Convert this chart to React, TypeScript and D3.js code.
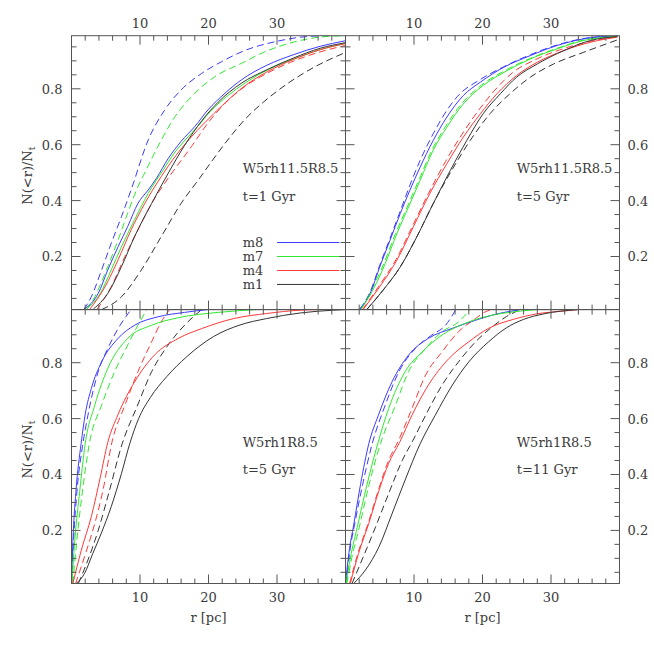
import React from 'react';
import * as d3 from 'd3';

// ---------- axis / label data ----------
const xMajorTicks = [10, 20, 30];
const xMinorTicks = [2, 4, 6, 8, 12, 14, 16, 18, 22, 24, 26, 28, 32, 34, 36, 38];
const yMajorTicks = [0.2, 0.4, 0.6, 0.8];
const yMinorTicks = [0.05, 0.1, 0.15, 0.25, 0.3, 0.35, 0.45, 0.5, 0.55, 0.65, 0.7, 0.75, 0.85, 0.9, 0.95];
const seriesNames = ['m8', 'm7', 'm4', 'm1'];
const seriesColors = ['#3b3bff', '#2fe82f', '#ff3838', '#333333'];
const legendYs = [0.25, 0.2, 0.15, 0.1];
const modelLabels = ['W5rh11.5R8.5', 'W5rh11.5R8.5', 'W5rh1R8.5', 'W5rh1R8.5'];
const timeLabels = ['t=1 Gyr', 't=5 Gyr', 't=5 Gyr', 't=11 Gyr'];

// ---------- top-left: W5rh11.5R8.5, t=1 Gyr ----------
const tl_m8 = [[1.9,0.012],[3.9,0.068],[5.3,0.152],[6.8,0.235],[8.2,0.307],[9.7,0.39],[11.2,0.438],[12.4,0.48],[14.1,0.55],[16,0.612],[18,0.665],[19.9,0.724],[22.4,0.784],[24.8,0.832],[28.5,0.884],[32.4,0.922],[36.3,0.952],[40,0.972]];
const tl_m7 = [[2.2,0.012],[4.2,0.068],[5.8,0.152],[7.3,0.235],[9.2,0.331],[11.2,0.426],[13.4,0.51],[15,0.57],[16.6,0.617],[18.4,0.665],[20.3,0.72],[22.8,0.775],[25.3,0.82],[29,0.872],[33,0.912],[37,0.945],[40,0.962]];
const tl_m4 = [[2.7,0.012],[4.9,0.092],[6.8,0.188],[8.7,0.295],[10.7,0.39],[13.1,0.486],[15.2,0.56],[17.2,0.62],[19.5,0.68],[22,0.74],[25,0.805],[28.5,0.86],[32.4,0.905],[36.3,0.94],[40,0.962]];
const tl_m1 = [[3.2,0.012],[5.3,0.068],[7.3,0.164],[9.2,0.271],[11.7,0.39],[14.1,0.497],[16.5,0.597],[19,0.685],[21.4,0.752],[24.8,0.82],[28.5,0.868],[32.4,0.91],[36.3,0.945],[40,0.965]];
const tl_m8d = [[1.8,0.01],[2.9,0.056],[4.4,0.152],[5.8,0.247],[7.3,0.343],[8.7,0.438],[11.2,0.617],[13.6,0.724],[16.0,0.796],[19,0.855],[21.9,0.897],[25.3,0.937],[30,0.97],[35,0.988],[38,0.99]];
const tl_m7d = [[2.2,0.01],[3.4,0.056],[5.3,0.164],[6.8,0.259],[8.2,0.355],[9.7,0.45],[10.5,0.49],[12.6,0.593],[15.1,0.7],[18,0.784],[20.9,0.843],[24.8,0.891],[28,0.93],[32.4,0.967],[36.3,0.985],[40,0.99]];
const tl_m4d = [[3.7,0.01],[5.8,0.092],[7.8,0.2],[9.7,0.295],[11.7,0.39],[14.4,0.49],[17.5,0.593],[19.9,0.677],[22.4,0.748],[25.3,0.808],[28.5,0.855],[32,0.895],[36,0.93],[40,0.955]];
const tl_m1d = [[4.4,0.01],[7.3,0.056],[10.2,0.152],[13.1,0.271],[16.0,0.39],[18.7,0.48],[20.6,0.545],[22.9,0.62],[25.3,0.69],[28,0.752],[31.5,0.818],[35.4,0.877],[40,0.93]];

// ---------- top-right: W5rh11.5R8.5, t=5 Gyr ----------
const tr_m8 = [[2.1,0.012],[3.6,0.068],[5.0,0.163],[6.5,0.258],[8.0,0.354],[9.4,0.437],[10.9,0.52],[12.8,0.615],[14.8,0.699],[17.2,0.776],[19.7,0.824],[23.1,0.877],[27,0.919],[30.9,0.955],[34.8,0.979],[39.7,0.99]];
const tr_m7 = [[2.3,0.012],[4.0,0.08],[5.8,0.175],[7.5,0.282],[9.2,0.377],[10.9,0.473],[12.8,0.58],[14.8,0.663],[17.2,0.746],[20.1,0.812],[23.6,0.865],[27,0.907],[30.9,0.943],[34.8,0.973],[39.7,0.988]];
const tr_m4 = [[2.6,0.011],[5.0,0.092],[7.5,0.187],[9.9,0.306],[12.3,0.425],[14.8,0.532],[17.2,0.627],[19.7,0.711],[22.1,0.782],[25,0.848],[28,0.895],[31.9,0.937],[35.8,0.967],[39.7,0.985]];
const tr_m1 = [[3.1,0.01],[5.5,0.08],[8.0,0.163],[10.4,0.27],[12.8,0.389],[15.3,0.508],[17.7,0.615],[20.1,0.711],[22.6,0.782],[25,0.842],[28,0.889],[31.9,0.937],[35.8,0.973],[39.7,0.987]];
const tr_m8d = [[2.1,0.012],[3.6,0.074],[5.0,0.169],[6.5,0.265],[8.0,0.363],[9.4,0.455],[10.9,0.544],[12.8,0.639],[14.8,0.723],[16.7,0.782],[19.2,0.826],[23.1,0.879],[27,0.922],[30.9,0.957],[34.8,0.98],[39.7,0.99]];
const tr_m7d = [[2.2,0.012],[3.8,0.08],[5.6,0.175],[7.3,0.282],[9.0,0.377],[10.7,0.473],[12.6,0.58],[14.6,0.665],[17.0,0.748],[19.9,0.814],[23.4,0.867],[27,0.909],[30.9,0.945],[34.8,0.975],[39.7,0.988]];
const tr_m4d = [[2.5,0.011],[4.9,0.095],[7.4,0.19],[9.8,0.31],[12.2,0.43],[14.6,0.54],[17.0,0.637],[19.4,0.722],[21.8,0.795],[24.4,0.858],[27.6,0.903],[31.6,0.942],[35.8,0.97],[39.7,0.986]];
const tr_m1d = [[3.1,0.01],[5.5,0.08],[8.0,0.163],[10.4,0.27],[12.8,0.389],[15.5,0.508],[18.2,0.615],[21.1,0.711],[24,0.782],[27,0.842],[30.4,0.889],[34.8,0.931],[39.7,0.975]];

// ---------- bottom-left: W5rh1R8.5, t=5 Gyr ----------
const bl_m8 = [[0.0,0.01],[0.2,0.16],[0.65,0.34],[1.4,0.51],[2.0,0.615],[2.9,0.708],[4.4,0.803],[6.8,0.887],[9.2,0.934],[12.6,0.964],[16.5,0.98],[19.9,0.99]];
const bl_m7 = [[0.05,0.01],[0.5,0.17],[1.2,0.34],[2.0,0.51],[3.4,0.648],[5.3,0.78],[8.2,0.887],[11.7,0.934],[15.6,0.961],[21.4,0.98],[27,0.99]];
const bl_m4 = [[0.2,0.01],[1.44,0.13],[2.9,0.25],[4.2,0.39],[5.3,0.515],[6.8,0.615],[9.2,0.731],[12.1,0.827],[15.6,0.887],[19,0.922],[23.7,0.958],[28.5,0.976],[33.4,0.988],[36,0.99]];
const bl_m1 = [[0.7,0.01],[1.9,0.046],[3.1,0.117],[4.35,0.19],[5.8,0.285],[7.3,0.404],[8.5,0.51],[9.8,0.6],[11.5,0.675],[13.9,0.75],[16.8,0.821],[20.7,0.893],[24.6,0.935],[28.5,0.958],[33.4,0.978],[38.3,0.988],[40,0.99]];
const bl_m8d = [[0.05,0.01],[0.3,0.16],[0.8,0.34],[1.6,0.5],[2.4,0.612],[3.9,0.768],[5.3,0.851],[6.8,0.922],[8.7,0.99]];
const bl_m7d = [[0.2,0.01],[0.8,0.17],[1.6,0.34],[2.6,0.51],[4.4,0.648],[6.3,0.768],[8.2,0.863],[9.7,0.934],[11,0.99]];
const bl_m4d = [[0.6,0.01],[1.9,0.106],[3.4,0.225],[4.6,0.344],[5.9,0.515],[7.8,0.648],[9.7,0.768],[11.7,0.875],[13.1,0.946],[14.3,0.99]];
const bl_m1d = [[1.0,0.01],[2.4,0.094],[3.9,0.2],[5.4,0.33],[7.4,0.51],[9.6,0.645],[11.7,0.768],[14.1,0.863],[16.5,0.934],[19,0.99]];

// ---------- bottom-right: W5rh1R8.5, t=11 Gyr ----------
const br_m8 = [[0.0,0.01],[0.5,0.12],[1.2,0.22],[2.2,0.365],[3.4,0.51],[4.8,0.612],[6.8,0.732],[9.2,0.827],[12.1,0.887],[15.6,0.923],[19,0.952],[21.4,0.97],[25.5,0.99]];
const br_m7 = [[0.1,0.01],[0.7,0.1],[1.7,0.21],[3.1,0.36],[4.7,0.51],[6.3,0.636],[8.7,0.768],[11.2,0.839],[14.1,0.899],[18,0.946],[21.4,0.97],[24.5,0.982],[27.9,0.99]];
const br_m4 = [[0.7,0.01],[1.9,0.117],[3.4,0.225],[4.9,0.344],[6.3,0.44],[7.9,0.515],[9.7,0.612],[12.1,0.72],[15.1,0.815],[18,0.875],[20.9,0.923],[24.5,0.955],[28,0.975],[31.9,0.985],[34,0.99]];
const br_m1 = [[1.2,0.01],[2.9,0.058],[4.9,0.142],[6.8,0.26],[8.7,0.38],[10.9,0.51],[13.1,0.612],[15.6,0.72],[18,0.803],[20.9,0.875],[23.5,0.925],[26,0.955],[29,0.975],[33.8,0.99]];
const br_m8d = [[0.1,0.01],[0.6,0.12],[1.4,0.23],[2.6,0.375],[3.9,0.51],[5.8,0.648],[7.8,0.768],[10.2,0.851],[12.6,0.899],[14.6,0.934],[16.1,0.99]];
const br_m7d = [[0.2,0.01],[0.9,0.1],[2.0,0.21],[3.4,0.36],[5.1,0.51],[7.3,0.648],[9.2,0.768],[11.7,0.851],[14.1,0.911],[16.5,0.946],[18.2,0.99]];
const br_m4d = [[0.6,0.01],[1.8,0.117],[3.3,0.225],[4.8,0.344],[6.2,0.445],[7.8,0.525],[9.7,0.636],[11.7,0.756],[14.1,0.839],[16.5,0.911],[19,0.958],[20.4,0.982],[21.5,0.99]];
const br_m1d = [[0.95,0.01],[2.4,0.094],[4.4,0.213],[6.3,0.332],[8.3,0.451],[9.8,0.52],[11.7,0.612],[14.1,0.72],[16.5,0.803],[19,0.875],[21.4,0.928],[23.5,0.965],[25.5,0.99]];

const solidSets = [
  [tl_m8, tl_m7, tl_m4, tl_m1],
  [tr_m8, tr_m7, tr_m4, tr_m1],
  [bl_m8, bl_m7, bl_m4, bl_m1],
  [br_m8, br_m7, br_m4, br_m1],
];
const dashedSets = [
  [tl_m8d, tl_m7d, tl_m4d, tl_m1d],
  [tr_m8d, tr_m7d, tr_m4d, tr_m1d],
  [bl_m8d, bl_m7d, bl_m4d, bl_m1d],
  [br_m8d, br_m7d, br_m4d, br_m1d],
];

// ---------- layout ----------
const PX = [71.5, 345.5];
const PY = [35.7, 309.6];
const PW = 274;
const PH = 273.9;
const FONT = 'DejaVu Serif';
const TXT = '#3a3a3a';
const AX = '#555';

function Panel({ idx }: { idx: number }) {
  const col = idx % 2;
  const row = Math.floor(idx / 2);
  const x0 = PX[col];
  const y0 = PY[row];
  const x = d3.scaleLinear().domain([0, 40]).range([x0, x0 + PW]);
  const y = d3.scaleLinear().domain([0.01, 0.99]).range([y0 + PH, y0]);
  const line = d3.line<number[]>().x(d => x(d[0])).y(d => y(d[1])).curve(d3.curveMonotoneX);
  const clipId = `clip${idx}`;
  const maj = 9, min = 5;
  const ticks: any[] = [];
  xMajorTicks.forEach((t, i) => {
    ticks.push(<line key={`xb${i}`} x1={x(t)} x2={x(t)} y1={y0 + PH} y2={y0 + PH - maj} />);
    ticks.push(<line key={`xt${i}`} x1={x(t)} x2={x(t)} y1={y0} y2={y0 + maj} />);
  });
  xMinorTicks.forEach((t, i) => {
    ticks.push(<line key={`xbm${i}`} x1={x(t)} x2={x(t)} y1={y0 + PH} y2={y0 + PH - min} />);
    ticks.push(<line key={`xtm${i}`} x1={x(t)} x2={x(t)} y1={y0} y2={y0 + min} />);
  });
  yMajorTicks.forEach((t, i) => {
    ticks.push(<line key={`yl${i}`} x1={x0} x2={x0 + maj} y1={y(t)} y2={y(t)} />);
    ticks.push(<line key={`yr${i}`} x1={x0 + PW} x2={x0 + PW - maj} y1={y(t)} y2={y(t)} />);
  });
  yMinorTicks.forEach((t, i) => {
    ticks.push(<line key={`ylm${i}`} x1={x0} x2={x0 + min} y1={y(t)} y2={y(t)} />);
    ticks.push(<line key={`yrm${i}`} x1={x0 + PW} x2={x0 + PW - min} y1={y(t)} y2={y(t)} />);
  });

  return (
    <g>
      <defs>
        <clipPath id={clipId}>
          <rect x={x0} y={y0} width={PW} height={PH} />
        </clipPath>
      </defs>
      <g clipPath={`url(#${clipId})`} fill="none" strokeWidth={1}>
        {dashedSets[idx].map((d, i) => (
          <path key={`d${i}`} d={line(d) || ''} stroke={seriesColors[i]} strokeDasharray="7,4" />
        ))}
        {solidSets[idx].map((d, i) => (
          <path key={`s${i}`} d={line(d) || ''} stroke={seriesColors[i]} />
        ))}
      </g>
      <g stroke={AX} strokeWidth={1}>{ticks}</g>
      <rect x={x0} y={y0} width={PW} height={PH} fill="none" stroke={AX} strokeWidth={1} />
      <g fontFamily={FONT} fontSize={13} fill={TXT}>
        <text x={x(25)} y={y(0.5)}>{modelLabels[idx]}</text>
        <text x={x(25)} y={y(0.4)}>{timeLabels[idx]}</text>
        {row === 0 && xMajorTicks.map(t => (
          <text key={`xl${t}`} x={x(t)} y={y0 - 8} textAnchor="middle">{t}</text>
        ))}
        {row === 1 && xMajorTicks.map(t => (
          <text key={`xl${t}`} x={x(t)} y={y0 + PH + 18} textAnchor="middle">{t}</text>
        ))}
        {row === 1 && (
          <text x={x(20)} y={y0 + PH + 38} textAnchor="middle">r [pc]</text>
        )}
        {col === 0 && yMajorTicks.map(t => (
          <text key={`yl${t}`} x={x0 - 9} y={y(t) + 5} textAnchor="end">{t.toFixed(1)}</text>
        ))}
        {col === 1 && yMajorTicks.map(t => (
          <text key={`yl${t}`} x={x0 + PW + 8} y={y(t) + 5} textAnchor="start">{t.toFixed(1)}</text>
        ))}
        {col === 0 && (
          <text transform={`translate(31.5,${y0 + PH / 2 + 3}) rotate(-90)`} textAnchor="middle">
            N(&lt;r)/N<tspan fontSize={9} dy={3}>t</tspan>
          </text>
        )}
      </g>
      {idx === 0 && (
        <g>
          {seriesNames.map((n, i) => (
            <g key={n}>
              <text x={x(25)} y={y(legendYs[i]) + 4.5} fontFamily={FONT} fontSize={13} fill={TXT}>{n}</text>
              <line x1={x(30)} x2={x(39.1)} y1={y(legendYs[i])} y2={y(legendYs[i])} stroke={seriesColors[i]} strokeWidth={1} />
            </g>
          ))}
        </g>
      )}
    </g>
  );
}

export default function App() {
  return (
    <svg width={654} height={654} style={{ position: 'absolute', left: 0, top: 0, background: '#fff' }}>
      <rect width={654} height={654} fill="#fff" />
      {[0, 1, 2, 3].map(i => <Panel key={i} idx={i} />)}
    </svg>
  );
}
